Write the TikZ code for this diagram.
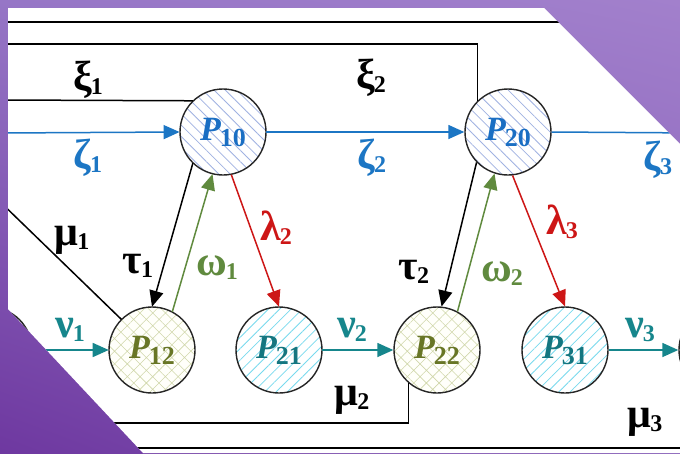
\documentclass[tikz,border=0pt]{standalone}
\usepackage{fontspec}
\setmainfont{Liberation Serif}
\usetikzlibrary{arrows.meta,patterns.meta,shadings}
\definecolor{zblue}{RGB}{28,118,196}
\definecolor{pblue}{RGB}{26,110,195}
\definecolor{nteal}{RGB}{22,134,140}
\definecolor{tteal}{RGB}{20,118,128}
\definecolor{ogreen}{RGB}{96,138,62}
\definecolor{olive}{RGB}{104,118,38}
\definecolor{lred}{RGB}{205,22,22}
\definecolor{hblue}{RGB}{160,178,226}
\definecolor{hcyan}{RGB}{120,218,238}
\definecolor{hcross}{RGB}{208,215,170}
\definecolor{pTL}{RGB}{150,118,198}
\definecolor{pTR}{RGB}{162,128,204}
\definecolor{pBL}{RGB}{110,56,160}
\definecolor{pBR}{RGB}{132,92,182}
\newcommand{\glab}[2]{{\fontsize{42}{42}\selectfont\bfseries #1}\kern-1pt\raisebox{-4pt}{\fontsize{24}{24}\selectfont\bfseries #2}}
\newcommand{\plab}[1]{{\fontsize{34}{34}\selectfont\bfseries\itshape P}\kern-1pt\raisebox{-6pt}{\fontsize{26}{26}\selectfont\bfseries #1}}
\begin{document}
\begin{tikzpicture}[x=1pt,y=-1pt,
  state/.style={circle,draw=black!85,line width=1.4pt,minimum size=86pt,inner sep=0pt},
  hatblue/.style={pattern={Lines[angle=-45,distance=8pt,line width=0.8pt]},pattern color=hblue},
  hatcyan/.style={pattern={Lines[angle=45,distance=8pt,line width=0.8pt]},pattern color=hcyan},
  hatcross/.style={preaction={fill=yellow!2},pattern={Hatch[angle=45,distance=9pt,line width=0.55pt]},pattern color=hcross},
  conn/.style={line width=1.5pt},
  arr/.style={conn,-{Triangle[length=16pt,width=14pt]}},
  lbl/.style={inner sep=0pt,anchor=center}]
\useasboundingbox (0,0) rectangle (680,453);
\shade[upper left=pTL, upper right=pTR, lower left=pBL, lower right=pBR] (0,0) rectangle (680,453);
\fill[white] (8,8) -- (544,8) -- (680,144) -- (680,453) -- (143,453) -- (8,309) -- cycle;
\begin{scope}
\clip (8,8) -- (544,8) -- (680,144) -- (680,453) -- (143,453) -- (8,309) -- cycle;
% states
\node[state,hatblue] (P10) at (223,132) {\color{pblue}\plab{10}};
\node[state,hatblue] (P20) at (508,132) {\color{pblue}\plab{20}};
\node[state,hatcross] (P12) at (152,350) {\color{olive}\plab{12}};
\node[state,hatcyan] (P21) at (279,350) {\color{tteal}\plab{21}};
\node[state,hatcross] (P22) at (437,350) {\color{olive}\plab{22}};
\node[state,hatcyan] (P31) at (565,350) {\color{tteal}\plab{31}};
\node[state] (PL) at (-11,350) {};
\node[state] (PR) at (722,350) {};
% free ends
\coordinate (top0) at (0,22);
\coordinate (top1) at (700,22);
\coordinate (xi2s) at (0,44);
\coordinate (xi1s) at (0,100);
\coordinate (zeta1s) at (0,133);
\coordinate (zeta3e) at (700,133);
\coordinate (mu1e) at (-10,192);
\coordinate (mu2e) at (0,423);
\coordinate (bot0) at (0,448);
\coordinate (bot1) at (700,448);
% black lines
\draw[conn] (top0) -- (top1);
\draw[conn] (bot0) -- (bot1);
\draw[conn] (xi2s) -| (P20.134);
\draw[conn] (xi1s) -- (P10.134);
\draw[conn] (P12.135) -- (mu1e);
\draw[conn] (P22.229) |- (mu2e);
% blue
\draw[arr,zblue] (zeta1s) -- (P10.west);
\draw[arr,zblue] (P10.east) -- (P20.west);
\draw[conn,zblue] (P20.east) -- (zeta3e);
% teal
\draw[arr,nteal] (PL.east) -- (P12.west);
\draw[arr,nteal] (P21.east) -- (P22.west);
\draw[arr,nteal] (P31.east) -- (PR.west);
% tau, omega, lambda
\draw[arr,black] (P10.226) -- (P12.north);
\draw[arr,ogreen] (P12.62) -- (P10.256);
\draw[arr,lred] (P10.281) -- (P21.north);
\draw[arr,black] (P20.224) -- (P22.84);
\draw[arr,ogreen] (P22.62) -- (P20.252);
\draw[arr,lred] (P20.276) -- (P31.north);
% labels
\node[lbl] (lxi1) at (88,80) {\glab{ξ}{1}};
\node[lbl,zblue] (lzeta1) at (88,158) {\glab{ζ}{1}};
\node[lbl] (lxi2) at (371,78) {\glab{ξ}{2}};
\node[lbl,zblue] (lzeta2) at (372,158) {\glab{ζ}{2}};
\node[lbl,zblue] (lzeta3) at (658,160) {\glab{ζ}{3}};
\node[lbl] (lmu1) at (72,240) {\glab{μ}{1}};
\node[lbl] (ltau1) at (138,266) {\glab{τ}{1}};
\node[lbl,ogreen] (lom1) at (217,268) {\glab{ω}{1}};
\node[lbl,lred] (llam2) at (276,228) {\glab{λ}{2}};
\node[lbl] (ltau2) at (414,272) {\glab{τ}{2}};
\node[lbl,ogreen] (lom2) at (502,274) {\glab{ω}{2}};
\node[lbl,lred] (llam3) at (562,222) {\glab{λ}{3}};
\node[lbl,nteal] (lnu1) at (70,330) {\glab{ν}{1}};
\node[lbl,nteal] (lnu2) at (352,330) {\glab{ν}{2}};
\node[lbl,nteal] (lnu3) at (640,330) {\glab{ν}{3}};
\node[lbl] (lmu2) at (352,400) {\glab{μ}{2}};
\node[lbl] (lmu3) at (645,422) {\glab{μ}{3}};
\end{scope}
\end{tikzpicture}
\end{document}
